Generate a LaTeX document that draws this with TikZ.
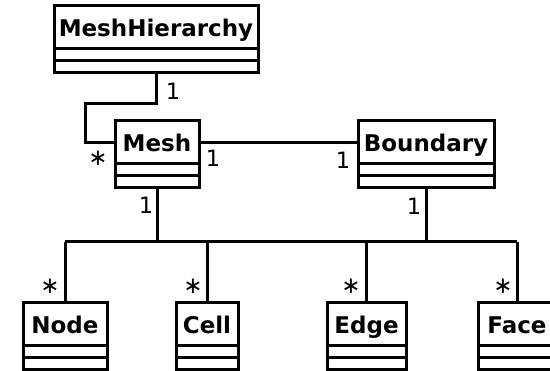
\documentclass[tikz,border=0pt]{standalone}
\usepackage{fontspec}
\setmainfont{DejaVu Sans}
\usetikzlibrary{calc}
\begin{document}
\begin{tikzpicture}[x=1pt,y=-1pt,
  line width=3pt,
  classbox/.style={draw, rectangle, anchor=north west, inner sep=0pt, outer sep=0pt},
  classname/.style={font=\bfseries\fontsize{23}{27}\selectfont, inner sep=0pt, anchor=base},
  mult/.style={font=\fontsize{22.5}{26}\selectfont, inner sep=0pt},
  many/.style={font=\fontsize{23}{27}\selectfont, inner sep=0pt, anchor=north}]
\useasboundingbox (0,0) rectangle (550,371);
\clip (0,0) rectangle (550,371);

% class box: name compartment 43, attribute and operation compartments 12 each
\newcommand\umlclass[5]{%
  \node[classbox, minimum width=#4-#2, minimum height=67] (#1) at (#2,#3) {};
  \node[classname] (#1-name) at ($(#1.north)+(0,31)$) {#5};
  \coordinate (#1-mid) at ($(#1.north)+(0,21.5)$);
  \draw ($(#1.north west)+(0,43)$) -- ($(#1.north east)+(0,43)$);
  \draw ($(#1.north west)+(0,55)$) -- ($(#1.north east)+(0,55)$);
}

\umlclass{mh}{54}{6}{258}{MeshHierarchy}
\umlclass{mesh}{115}{121}{199}{Mesh}
\umlclass{boundary}{358}{121}{494}{Boundary}
\umlclass{node}{23}{303}{107}{Node}
\umlclass{cell}{176}{303}{238}{Cell}
\umlclass{edge}{327}{303}{406}{Edge}
\umlclass{face}{478}{303}{556}{Face}

% hierarchy -> mesh
\coordinate (bend) at (85,104);
\draw (mh.south) |- (bend) |- (mesh-mid -| mesh.west);
\node[mult] (m-mh) at (173,91) {1};
\node[many] (m-mesh1) at (98,150) {∗};

% mesh -- boundary
\draw (mesh-mid -| mesh.east) -- (mesh-mid -| boundary.west);
\node[mult] (m-mesh2) at (213,158) {1};
\node[mult] (m-bnd1) at (343,160) {1};

% composition bus down to the entities
\coordinate (bus) at (0,242);
\draw (node.north |- bus) -- (face.north |- bus);
\draw (mesh.south) -- (mesh.south |- bus);
\draw (boundary.south) -- (boundary.south |- bus);
\foreach \c in {node,cell,edge,face}
  \draw (\c.north) -- (\c.north |- bus);
\node[mult] (m-mesh3) at (146,205) {1};
\node[mult] (m-bnd2) at (414,206) {1};
\node[many] (m-node) at (50,278) {∗};
\node[many] (m-cell) at (193,278) {∗};
\node[many] (m-edge) at (351,278) {∗};
\node[many] (m-face) at (503,278) {∗};
\end{tikzpicture}
\end{document}
